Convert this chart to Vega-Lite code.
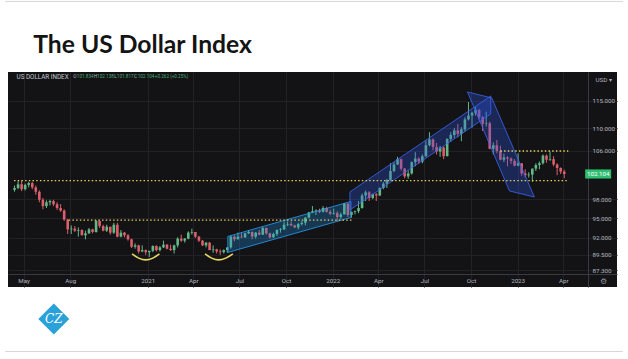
{
  "$schema": "https://vega.github.io/schema/vega-lite/v6.json",
  "width": 609,
  "height": 215,
  "autosize": {"type": "none"},
  "padding": {"left": 8, "top": 72, "right": 11, "bottom": 72},
  "background": "#ffffff",
  "view": {"fill": "#131316", "stroke": null},
  "config": {"font": "Roboto"},
  "datasets": {
    "dxy": [
      {"d": "2020-04-13", "o": 99.5, "h": 100.2, "l": 99.2, "c": 99.8},
      {"d": "2020-04-20", "o": 99.8, "h": 100.9, "l": 99.6, "c": 100.4},
      {"d": "2020-04-27", "o": 100.4, "h": 101.0, "l": 99.3, "c": 99.6},
      {"d": "2020-05-04", "o": 99.6, "h": 100.5, "l": 99.4, "c": 100.3},
      {"d": "2020-05-11", "o": 100.3, "h": 100.8, "l": 99.9, "c": 100.6},
      {"d": "2020-05-18", "o": 100.6, "h": 100.8, "l": 99.6, "c": 99.9},
      {"d": "2020-05-25", "o": 99.9, "h": 100.2, "l": 98.7, "c": 99.2},
      {"d": "2020-06-01", "o": 99.2, "h": 99.4, "l": 97.5, "c": 97.9},
      {"d": "2020-06-08", "o": 97.9, "h": 98.2, "l": 96.4, "c": 96.9},
      {"d": "2020-06-15", "o": 96.9, "h": 97.8, "l": 96.6, "c": 97.5},
      {"d": "2020-06-22", "o": 97.5, "h": 97.9, "l": 97.0, "c": 97.7},
      {"d": "2020-06-29", "o": 97.7, "h": 97.9, "l": 96.9, "c": 97.2},
      {"d": "2020-07-06", "o": 97.2, "h": 97.5, "l": 96.3, "c": 96.6},
      {"d": "2020-07-13", "o": 96.6, "h": 97.2, "l": 96.0, "c": 96.2},
      {"d": "2020-07-20", "o": 96.2, "h": 96.4, "l": 94.6, "c": 94.8},
      {"d": "2020-07-27", "o": 94.8, "h": 94.9, "l": 92.6, "c": 93.3},
      {"d": "2020-08-03", "o": 93.3, "h": 93.9, "l": 92.6, "c": 93.4},
      {"d": "2020-08-10", "o": 93.4, "h": 93.8, "l": 92.9, "c": 93.1},
      {"d": "2020-08-17", "o": 93.1, "h": 93.6, "l": 92.2, "c": 93.2},
      {"d": "2020-08-24", "o": 93.2, "h": 93.3, "l": 92.4, "c": 92.4},
      {"d": "2020-08-31", "o": 92.4, "h": 93.1, "l": 91.8, "c": 92.7},
      {"d": "2020-09-07", "o": 92.7, "h": 93.5, "l": 92.6, "c": 93.3},
      {"d": "2020-09-14", "o": 93.3, "h": 93.4, "l": 92.7, "c": 92.9},
      {"d": "2020-09-21", "o": 92.9, "h": 94.7, "l": 92.8, "c": 94.6},
      {"d": "2020-09-28", "o": 94.6, "h": 94.6, "l": 93.5, "c": 93.8},
      {"d": "2020-10-05", "o": 93.8, "h": 94.0, "l": 93.0, "c": 93.1},
      {"d": "2020-10-12", "o": 93.1, "h": 94.0, "l": 92.9, "c": 93.7},
      {"d": "2020-10-19", "o": 93.7, "h": 93.7, "l": 92.5, "c": 92.8},
      {"d": "2020-10-26", "o": 92.8, "h": 94.3, "l": 92.6, "c": 94.0},
      {"d": "2020-11-02", "o": 94.0, "h": 94.3, "l": 92.1, "c": 92.2},
      {"d": "2020-11-09", "o": 92.2, "h": 93.2, "l": 92.1, "c": 92.8},
      {"d": "2020-11-16", "o": 92.8, "h": 92.9, "l": 92.1, "c": 92.4},
      {"d": "2020-11-23", "o": 92.4, "h": 92.6, "l": 91.6, "c": 91.8},
      {"d": "2020-11-30", "o": 91.8, "h": 91.9, "l": 90.5, "c": 90.7},
      {"d": "2020-12-07", "o": 90.7, "h": 91.2, "l": 90.4, "c": 90.9},
      {"d": "2020-12-14", "o": 90.9, "h": 91.0, "l": 89.7, "c": 90.0},
      {"d": "2020-12-21", "o": 90.0, "h": 90.9, "l": 89.9, "c": 90.2},
      {"d": "2020-12-28", "o": 90.2, "h": 90.3, "l": 89.5, "c": 89.9},
      {"d": "2021-01-04", "o": 89.9, "h": 90.0, "l": 89.2, "c": 90.1},
      {"d": "2021-01-11", "o": 90.1, "h": 90.9, "l": 89.9, "c": 90.8},
      {"d": "2021-01-18", "o": 90.8, "h": 90.9, "l": 90.0, "c": 90.2},
      {"d": "2021-01-25", "o": 90.2, "h": 90.8, "l": 90.0, "c": 90.6},
      {"d": "2021-02-01", "o": 90.6, "h": 91.6, "l": 90.5, "c": 91.0},
      {"d": "2021-02-08", "o": 91.0, "h": 91.1, "l": 90.3, "c": 90.4},
      {"d": "2021-02-15", "o": 90.4, "h": 91.0, "l": 90.1, "c": 90.2},
      {"d": "2021-02-22", "o": 90.2, "h": 91.0, "l": 89.7, "c": 90.9},
      {"d": "2021-03-01", "o": 90.9, "h": 92.1, "l": 90.6, "c": 91.9},
      {"d": "2021-03-08", "o": 91.9, "h": 92.5, "l": 91.4, "c": 91.6},
      {"d": "2021-03-15", "o": 91.6, "h": 92.0, "l": 91.3, "c": 91.9},
      {"d": "2021-03-22", "o": 91.9, "h": 93.0, "l": 91.8, "c": 92.8},
      {"d": "2021-03-29", "o": 92.8, "h": 93.4, "l": 92.5, "c": 92.9},
      {"d": "2021-04-05", "o": 92.9, "h": 92.9, "l": 92.0, "c": 92.2},
      {"d": "2021-04-12", "o": 92.2, "h": 92.3, "l": 91.4, "c": 91.6},
      {"d": "2021-04-19", "o": 91.6, "h": 91.7, "l": 90.8, "c": 90.9},
      {"d": "2021-04-26", "o": 90.9, "h": 91.4, "l": 90.6, "c": 91.3},
      {"d": "2021-05-03", "o": 91.3, "h": 91.4, "l": 90.2, "c": 90.2},
      {"d": "2021-05-10", "o": 90.2, "h": 90.9, "l": 89.8, "c": 90.3},
      {"d": "2021-05-17", "o": 90.3, "h": 90.4, "l": 89.7, "c": 90.0},
      {"d": "2021-05-24", "o": 90.0, "h": 90.3, "l": 89.5, "c": 89.9},
      {"d": "2021-05-31", "o": 89.9, "h": 90.3, "l": 89.7, "c": 90.2},
      {"d": "2021-06-07", "o": 90.2, "h": 90.6, "l": 89.8, "c": 90.6},
      {"d": "2021-06-14", "o": 90.6, "h": 92.4, "l": 90.4, "c": 92.2},
      {"d": "2021-06-21", "o": 92.2, "h": 92.4, "l": 91.5, "c": 91.8},
      {"d": "2021-06-28", "o": 91.8, "h": 92.8, "l": 91.8, "c": 92.2},
      {"d": "2021-07-05", "o": 92.2, "h": 92.8, "l": 92.0, "c": 92.1},
      {"d": "2021-07-12", "o": 92.1, "h": 92.8, "l": 92.0, "c": 92.7},
      {"d": "2021-07-19", "o": 92.7, "h": 93.2, "l": 92.6, "c": 92.9},
      {"d": "2021-07-26", "o": 92.9, "h": 93.0, "l": 91.8, "c": 92.2},
      {"d": "2021-08-02", "o": 92.2, "h": 92.9, "l": 91.9, "c": 92.8},
      {"d": "2021-08-09", "o": 92.8, "h": 93.2, "l": 92.4, "c": 92.5},
      {"d": "2021-08-16", "o": 92.5, "h": 93.7, "l": 92.5, "c": 93.5},
      {"d": "2021-08-23", "o": 93.5, "h": 93.6, "l": 92.5, "c": 92.7},
      {"d": "2021-08-30", "o": 92.7, "h": 92.8, "l": 91.9, "c": 92.1},
      {"d": "2021-09-06", "o": 92.1, "h": 92.8, "l": 92.0, "c": 92.6},
      {"d": "2021-09-13", "o": 92.6, "h": 93.3, "l": 92.3, "c": 93.2},
      {"d": "2021-09-20", "o": 93.2, "h": 93.5, "l": 92.8, "c": 93.3},
      {"d": "2021-09-27", "o": 93.3, "h": 94.5, "l": 93.2, "c": 94.0},
      {"d": "2021-10-04", "o": 94.0, "h": 94.5, "l": 93.8, "c": 94.1},
      {"d": "2021-10-11", "o": 94.1, "h": 94.5, "l": 93.8, "c": 93.9},
      {"d": "2021-10-18", "o": 93.9, "h": 94.0, "l": 93.5, "c": 93.6},
      {"d": "2021-10-25", "o": 93.6, "h": 94.3, "l": 93.3, "c": 94.1},
      {"d": "2021-11-01", "o": 94.1, "h": 94.6, "l": 93.9, "c": 94.3},
      {"d": "2021-11-08", "o": 94.3, "h": 95.2, "l": 93.9, "c": 95.1},
      {"d": "2021-11-15", "o": 95.1, "h": 96.0, "l": 95.0, "c": 95.9},
      {"d": "2021-11-22", "o": 95.9, "h": 96.9, "l": 95.8, "c": 96.1},
      {"d": "2021-11-29", "o": 96.1, "h": 96.4, "l": 95.5, "c": 96.2},
      {"d": "2021-12-06", "o": 96.2, "h": 96.5, "l": 95.8, "c": 96.0},
      {"d": "2021-12-13", "o": 96.0, "h": 96.9, "l": 95.9, "c": 96.6},
      {"d": "2021-12-20", "o": 96.6, "h": 96.8, "l": 95.9, "c": 96.0},
      {"d": "2021-12-27", "o": 96.0, "h": 96.3, "l": 95.5, "c": 95.7},
      {"d": "2022-01-03", "o": 95.7, "h": 96.5, "l": 95.6, "c": 95.8},
      {"d": "2022-01-10", "o": 95.8, "h": 96.1, "l": 94.6, "c": 95.2},
      {"d": "2022-01-17", "o": 95.2, "h": 95.9, "l": 94.9, "c": 95.6},
      {"d": "2022-01-24", "o": 95.6, "h": 97.4, "l": 95.6, "c": 97.3},
      {"d": "2022-01-31", "o": 97.3, "h": 97.3, "l": 95.2, "c": 95.5},
      {"d": "2022-02-07", "o": 95.5, "h": 96.0, "l": 95.1, "c": 96.0},
      {"d": "2022-02-14", "o": 96.0, "h": 96.2, "l": 95.6, "c": 96.1},
      {"d": "2022-02-21", "o": 96.1, "h": 97.7, "l": 95.8, "c": 96.6},
      {"d": "2022-02-28", "o": 96.6, "h": 98.9, "l": 96.5, "c": 98.6},
      {"d": "2022-03-07", "o": 98.6, "h": 99.4, "l": 97.7, "c": 99.1},
      {"d": "2022-03-14", "o": 99.1, "h": 99.3, "l": 97.7, "c": 98.2},
      {"d": "2022-03-21", "o": 98.2, "h": 98.9, "l": 98.0, "c": 98.8},
      {"d": "2022-03-28", "o": 98.8, "h": 99.0, "l": 97.7, "c": 98.6},
      {"d": "2022-04-04", "o": 98.6, "h": 99.9, "l": 98.5, "c": 99.8},
      {"d": "2022-04-11", "o": 99.8, "h": 100.8, "l": 99.6, "c": 100.5},
      {"d": "2022-04-18", "o": 100.5, "h": 101.3, "l": 99.8, "c": 101.1},
      {"d": "2022-04-25", "o": 101.1, "h": 103.9, "l": 101.0, "c": 102.6},
      {"d": "2022-05-02", "o": 102.6, "h": 104.1, "l": 102.4, "c": 103.7},
      {"d": "2022-05-09", "o": 103.7, "h": 105.0, "l": 103.6, "c": 104.6},
      {"d": "2022-05-16", "o": 104.6, "h": 104.7, "l": 102.7, "c": 103.0},
      {"d": "2022-05-23", "o": 103.0, "h": 103.1, "l": 101.4, "c": 101.7},
      {"d": "2022-05-30", "o": 101.7, "h": 102.7, "l": 101.3, "c": 102.2},
      {"d": "2022-06-06", "o": 102.2, "h": 104.2, "l": 102.0, "c": 104.1},
      {"d": "2022-06-13", "o": 104.1, "h": 105.8, "l": 103.4, "c": 104.7},
      {"d": "2022-06-20", "o": 104.7, "h": 104.9, "l": 103.8, "c": 104.2},
      {"d": "2022-06-27", "o": 104.2, "h": 105.4, "l": 103.9, "c": 105.1},
      {"d": "2022-07-04", "o": 105.1, "h": 107.8, "l": 105.0, "c": 107.0},
      {"d": "2022-07-11", "o": 107.0, "h": 109.3, "l": 106.8, "c": 108.0},
      {"d": "2022-07-18", "o": 108.0, "h": 108.2, "l": 106.1, "c": 106.7},
      {"d": "2022-07-25", "o": 106.7, "h": 107.4, "l": 105.4, "c": 105.9},
      {"d": "2022-08-01", "o": 105.9, "h": 106.9, "l": 105.0, "c": 106.6},
      {"d": "2022-08-08", "o": 106.6, "h": 106.8, "l": 104.6, "c": 105.1},
      {"d": "2022-08-15", "o": 105.1, "h": 108.2, "l": 105.1, "c": 108.1},
      {"d": "2022-08-22", "o": 108.1, "h": 109.3, "l": 107.6, "c": 108.8},
      {"d": "2022-08-29", "o": 108.8, "h": 110.0, "l": 108.3, "c": 109.6},
      {"d": "2022-09-05", "o": 109.6, "h": 110.8, "l": 108.4, "c": 109.0},
      {"d": "2022-09-12", "o": 109.0, "h": 110.2, "l": 107.7, "c": 109.8},
      {"d": "2022-09-19", "o": 109.8, "h": 112.0, "l": 109.4, "c": 111.6},
      {"d": "2022-09-26", "o": 111.6, "h": 114.8, "l": 111.4, "c": 112.3},
      {"d": "2022-10-03", "o": 112.3, "h": 113.0, "l": 110.1, "c": 112.8},
      {"d": "2022-10-10", "o": 112.8, "h": 113.9, "l": 112.3, "c": 113.3},
      {"d": "2022-10-17", "o": 113.3, "h": 113.5, "l": 111.6, "c": 112.0},
      {"d": "2022-10-24", "o": 112.0, "h": 112.2, "l": 109.5, "c": 110.8},
      {"d": "2022-10-31", "o": 110.8, "h": 113.0, "l": 110.3, "c": 110.9},
      {"d": "2022-11-07", "o": 110.9, "h": 111.2, "l": 106.3, "c": 106.4},
      {"d": "2022-11-14", "o": 106.4, "h": 107.5, "l": 105.4, "c": 107.0},
      {"d": "2022-11-21", "o": 107.0, "h": 107.9, "l": 105.6, "c": 106.0},
      {"d": "2022-11-28", "o": 106.0, "h": 106.9, "l": 104.4, "c": 104.5},
      {"d": "2022-12-05", "o": 104.5, "h": 105.5, "l": 104.1, "c": 104.9},
      {"d": "2022-12-12", "o": 104.9, "h": 105.1, "l": 103.4, "c": 104.7},
      {"d": "2022-12-19", "o": 104.7, "h": 104.9, "l": 103.8, "c": 104.3},
      {"d": "2022-12-26", "o": 104.3, "h": 104.6, "l": 103.4, "c": 103.5},
      {"d": "2023-01-02", "o": 103.5, "h": 105.6, "l": 103.4, "c": 103.9},
      {"d": "2023-01-09", "o": 103.9, "h": 103.9, "l": 101.8, "c": 102.2},
      {"d": "2023-01-16", "o": 102.2, "h": 102.9, "l": 101.5, "c": 101.9},
      {"d": "2023-01-23", "o": 101.9, "h": 102.4, "l": 101.5, "c": 102.0},
      {"d": "2023-01-30", "o": 102.0, "h": 103.0, "l": 100.8, "c": 103.0},
      {"d": "2023-02-06", "o": 103.0, "h": 103.9, "l": 102.6, "c": 103.6},
      {"d": "2023-02-13", "o": 103.6, "h": 104.2, "l": 102.9, "c": 103.9},
      {"d": "2023-02-20", "o": 103.9, "h": 105.4, "l": 103.7, "c": 105.2},
      {"d": "2023-02-27", "o": 105.2, "h": 105.4, "l": 104.0, "c": 104.5},
      {"d": "2023-03-06", "o": 104.5, "h": 105.9, "l": 104.3, "c": 104.6},
      {"d": "2023-03-13", "o": 104.6, "h": 105.1, "l": 103.4, "c": 103.7},
      {"d": "2023-03-20", "o": 103.7, "h": 103.9, "l": 101.9, "c": 103.1},
      {"d": "2023-03-27", "o": 103.1, "h": 103.2, "l": 102.1, "c": 102.5},
      {"d": "2023-04-03", "o": 102.5, "h": 102.8, "l": 101.4, "c": 102.104}
    ],
    "bands": [
      {"band": "A", "d": "2021-06-08", "top": 92.23, "bot": 89.86},
      {"band": "A", "d": "2022-02-06", "top": 97.64, "bot": 95.12},
      {"band": "B", "d": "2022-02-04", "top": 99.16, "bot": 96.29},
      {"band": "B", "d": "2022-11-09", "top": 115.94, "bot": 112.59},
      {"band": "C", "d": "2022-09-24", "top": 116.7, "bot": 116.7},
      {"band": "C", "d": "2022-11-11", "top": 115.56, "bot": 106.25},
      {"band": "C", "d": "2022-12-16", "top": 108.03, "bot": 99.32},
      {"band": "C", "d": "2023-02-03", "top": 98.35, "bot": 98.35}
    ],
    "levels": [
      {"v": 101.0, "from": "2020-04-12", "to": "2023-04-08"},
      {"v": 94.7, "from": "2020-07-29", "to": "2022-02-08"},
      {"v": 106.0, "from": "2022-11-28", "to": "2023-04-11"}
    ],
    "arcs": [
      {"arc": "1", "d": "2020-12-01", "v": 89.66},
      {"arc": "1", "d": "2020-12-14", "v": 89.03},
      {"arc": "1", "d": "2020-12-28", "v": 88.77},
      {"arc": "1", "d": "2021-01-11", "v": 89.03},
      {"arc": "1", "d": "2021-01-24", "v": 89.66},
      {"arc": "2", "d": "2021-04-24", "v": 89.66},
      {"arc": "2", "d": "2021-05-07", "v": 89.03},
      {"arc": "2", "d": "2021-05-21", "v": 88.77},
      {"arc": "2", "d": "2021-06-04", "v": 89.03},
      {"arc": "2", "d": "2021-06-18", "v": 89.66}
    ],
    "quote": [
      {"part": "O", "at": "2020-08-07", "kind": "name"},
      {"part": "101.834", "at": "2020-08-14", "kind": "value"},
      {"part": "H", "at": "2020-09-17", "kind": "name"},
      {"part": "102.138", "at": "2020-09-23", "kind": "value"},
      {"part": "L", "at": "2020-10-27", "kind": "name"},
      {"part": "101.817", "at": "2020-11-01", "kind": "value"},
      {"part": "C", "at": "2020-12-05", "kind": "name"},
      {"part": "102.104", "at": "2020-12-12", "kind": "value"},
      {"part": "+0.262 (+0.25%)", "at": "2021-01-15", "kind": "value"}
    ]
  },
  "layer": [
    {
      "data": {"name": "dxy"},
      "mark": {"type": "rule", "strokeWidth": 1},
      "encoding": {
        "x": {
          "field": "d",
          "type": "temporal",
          "scale": {
            "type": "utc",
            "domain": [
              {"year": 2020, "month": 4, "date": 10, "utc": true},
              {"year": 2023, "month": 7, "date": 6, "hours": 7, "utc": true}
            ],
            "nice": false
          },
          "axis": {
            "orient": "bottom",
            "offset": -13,
            "values": [
              {"year": 2020, "month": 5, "date": 1, "utc": true},
              {"year": 2020, "month": 8, "date": 1, "utc": true},
              {"year": 2021, "month": 1, "date": 1, "utc": true},
              {"year": 2021, "month": 4, "date": 1, "utc": true},
              {"year": 2021, "month": 7, "date": 1, "utc": true},
              {"year": 2021, "month": 10, "date": 1, "utc": true},
              {"year": 2022, "month": 1, "date": 1, "utc": true},
              {"year": 2022, "month": 4, "date": 1, "utc": true},
              {"year": 2022, "month": 7, "date": 1, "utc": true},
              {"year": 2022, "month": 10, "date": 1, "utc": true},
              {"year": 2023, "month": 1, "date": 1, "utc": true},
              {"year": 2023, "month": 4, "date": 1, "utc": true}
            ],
            "labelExpr": "utcmonth(datum.value) == 0 ? utcFormat(datum.value, '%Y') : utcFormat(datum.value, '%b')",
            "labelFont": "Roboto",
            "labelFontSize": 6.2,
            "labelColor": "#b2b5be",
            "labelPadding": 3,
            "labelFlush": false,
            "labelOverlap": false,
            "ticks": false,
            "domainColor": "#3a3a42",
            "grid": true,
            "gridColor": "#212127",
            "title": "⚙",
            "titleX": 595,
            "titleY": 7,
            "titleAlign": "center",
            "titleBaseline": "middle",
            "titleFont": "DejaVu Sans",
            "titleFontSize": 8,
            "titleFontWeight": "normal",
            "titleColor": "#8f929a"
          }
        },
        "y": {
          "field": "l",
          "type": "quantitative",
          "scale": {"type": "log", "domain": [84.94, 120.55], "nice": false, "zero": false},
          "axis": {
            "orient": "right",
            "offset": -29,
            "values": [87.3, 89.5, 92, 95, 98, 106, 110, 115],
            "format": ".3f",
            "labelFont": "Roboto",
            "labelFontSize": 6.2,
            "labelColor": "#b2b5be",
            "labelPadding": 4,
            "ticks": false,
            "domainColor": "#3a3a42",
            "grid": true,
            "gridColor": "#212127",
            "title": "USD ▾",
            "titleAngle": 0,
            "titleX": 7,
            "titleY": 7,
            "titleAlign": "left",
            "titleBaseline": "middle",
            "titleFont": "Roboto",
            "titleFontSize": 6.2,
            "titleFontWeight": "normal",
            "titleColor": "#b2b5be"
          }
        },
        "y2": {"field": "h"},
        "color": {"condition": {"test": "datum.c >= datum.o", "value": "#63b985"}, "value": "#dd5f6c"}
      }
    },
    {
      "data": {"name": "dxy"},
      "mark": {"type": "bar", "size": 2.6},
      "encoding": {
        "x": {"field": "d", "type": "temporal"},
        "y": {"field": "o", "type": "quantitative", "stack": null},
        "y2": {"field": "c"},
        "color": {"condition": {"test": "datum.c >= datum.o", "value": "#63b985"}, "value": "#dd5f6c"}
      }
    },
    {
      "data": {"name": "bands"},
      "mark": {"type": "area", "fillOpacity": 0.3, "strokeWidth": 1, "strokeOpacity": 0.8},
      "encoding": {
        "x": {"field": "d", "type": "temporal"},
        "y": {"field": "top", "type": "quantitative", "stack": null},
        "y2": {"field": "bot"},
        "color": {
          "field": "band",
          "type": "nominal",
          "scale": {"domain": ["A", "B", "C"], "range": ["#1f8fe0", "#2f5bea", "#2f5bea"]},
          "legend": null
        },
        "stroke": {
          "field": "band",
          "type": "nominal",
          "scale": {"domain": ["A", "B", "C"], "range": ["#2c9cf0", "#3d66f0", "#3d66f0"]},
          "legend": null
        }
      }
    },
    {
      "data": {"name": "levels"},
      "mark": {"type": "rule", "color": "#e2cd55", "strokeWidth": 1.3, "strokeDash": [1.5, 2.2]},
      "encoding": {
        "x": {"field": "from", "type": "temporal"},
        "x2": {"field": "to"},
        "y": {"field": "v", "type": "quantitative"}
      }
    },
    {
      "data": {"name": "arcs"},
      "mark": {"type": "line", "color": "#e8d660", "strokeWidth": 1.6, "interpolate": "monotone"},
      "encoding": {
        "x": {"field": "d", "type": "temporal"},
        "y": {"field": "v", "type": "quantitative"},
        "detail": {"field": "arc"}
      }
    },
    {
      "data": {"values": [{"part": "US DOLLAR INDEX", "at": "2020-04-17"}]},
      "mark": {"type": "text", "align": "left", "baseline": "middle", "font": "Roboto", "fontSize": 6.3, "color": "#c4c7cf"},
      "encoding": {
        "x": {"field": "at", "type": "temporal"},
        "y": {"datum": 119.53},
        "text": {"field": "part"}
      }
    },
    {
      "data": {"name": "quote"},
      "transform": [{"filter": "datum.kind == 'name'"}],
      "mark": {"type": "text", "align": "left", "baseline": "middle", "font": "Roboto", "fontSize": 4.6, "color": "#b2b5be"},
      "encoding": {
        "x": {"field": "at", "type": "temporal"},
        "y": {"datum": 119.53},
        "text": {"field": "part"}
      }
    },
    {
      "data": {"name": "quote"},
      "transform": [{"filter": "datum.kind == 'value'"}],
      "mark": {"type": "text", "align": "left", "baseline": "middle", "font": "Roboto", "fontSize": 4.6, "color": "#4cae73"},
      "encoding": {
        "x": {"field": "at", "type": "temporal"},
        "y": {"datum": 119.53},
        "text": {"field": "part"}
      }
    },
    {
      "data": {"values": [{}]},
      "mark": {"type": "point", "shape": "M-1,-0.35H1V0.35H-1Z", "size": 676, "filled": true, "opacity": 1, "color": "#2fbf71"},
      "encoding": {
        "x": {"datum": {"year": 2023, "month": 6, "date": 9, "utc": true}},
        "y": {"datum": 102.104}
      }
    },
    {
      "data": {"values": [{}]},
      "mark": {"type": "text", "text": "102.104", "font": "Roboto", "fontSize": 6.2, "color": "#ffffff", "align": "center", "baseline": "middle"},
      "encoding": {
        "x": {"datum": {"year": 2023, "month": 6, "date": 9, "utc": true}},
        "y": {"datum": 102.104}
      }
    },
    {
      "data": {"values": [{"title": "The US Dollar Index"}]},
      "mark": {"type": "text", "font": "Lato", "fontSize": 24.7, "fontWeight": "bold", "color": "#141414", "align": "left", "baseline": "alphabetic"},
      "encoding": {
        "x": {"datum": {"year": 2020, "month": 5, "date": 19, "hours": 20, "utc": true}},
        "y": {"datum": 124.41},
        "text": {"field": "title"}
      }
    },
    {
      "data": {"values": [{}]},
      "mark": {"type": "rule", "color": "#d6d6d6", "strokeWidth": 1},
      "encoding": {
        "x": {"datum": {"year": 2020, "month": 3, "date": 25, "hours": 12, "utc": true}},
        "x2": {"datum": {"year": 2023, "month": 7, "date": 27, "hours": 17, "utc": true}},
        "y": {"datum": 135.23}
      }
    },
    {
      "data": {"values": [{}]},
      "mark": {"type": "rule", "color": "#d6d6d6", "strokeWidth": 1},
      "encoding": {
        "x": {"datum": {"year": 2020, "month": 3, "date": 25, "hours": 12, "utc": true}},
        "x2": {"datum": {"year": 2023, "month": 7, "date": 27, "hours": 17, "utc": true}},
        "y": {"datum": 76.47}
      }
    },
    {
      "data": {"values": [{}]},
      "mark": {"type": "point", "shape": "diamond", "size": 961, "filled": true, "opacity": 1, "color": "#2ba1da"},
      "encoding": {
        "x": {"datum": {"year": 2020, "month": 6, "date": 29, "hours": 14, "utc": true}},
        "y": {"datum": 80.63}
      }
    },
    {
      "data": {"values": [{}]},
      "mark": {"type": "text", "text": "CZ", "font": "DejaVu Serif", "fontStyle": "italic", "fontSize": 12, "color": "#ffffff", "align": "center", "baseline": "middle"},
      "encoding": {
        "x": {"datum": {"year": 2020, "month": 6, "date": 29, "hours": 14, "utc": true}},
        "y": {"datum": 80.63}
      }
    }
  ]
}
